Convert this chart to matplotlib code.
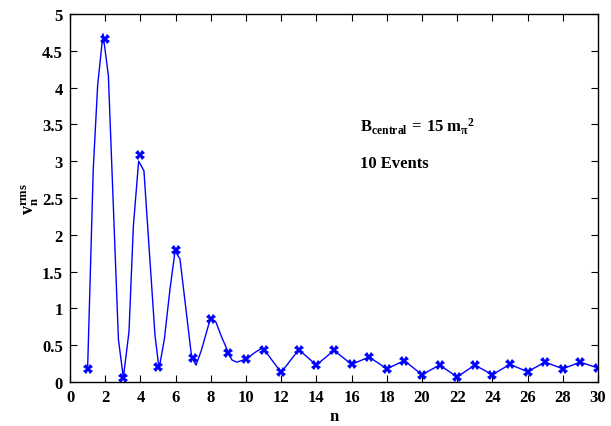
import matplotlib
matplotlib.use("Agg")
import matplotlib.pyplot as plt

# =========================
# Data
# =========================
n_points = list(range(1, 31))
v_points = [0.18, 4.66, 0.05, 3.09, 0.21, 1.79, 0.32, 0.85, 0.40, 0.31,
            0.44, 0.13, 0.44, 0.23, 0.43, 0.24, 0.34, 0.18, 0.29, 0.10,
            0.23, 0.07, 0.23, 0.10, 0.24, 0.14, 0.27, 0.18, 0.27, 0.19]

# the curve is its own finer series
n_curve = [1.0, 1.32, 1.57, 1.875, 2.18, 2.75, 3.03, 3.35, 3.6, 3.9, 4.2,
           4.83, 5.06, 5.36, 5.68, 5.97, 6.25, 6.91, 7.16, 7.45, 7.95, 8.05,
           8.3, 8.6, 9.0, 9.2, 9.47, 10.0, 10.5, 10.9, 11.0]
v_curve = [0.18, 2.89, 4.03, 4.73, 4.16, 0.58, 0.06, 0.68, 2.12, 3.0, 2.87,
           0.63, 0.18, 0.58, 1.26, 1.78, 1.67, 0.34, 0.23, 0.42, 0.84, 0.86,
           0.81, 0.62, 0.40, 0.30, 0.27, 0.31, 0.40, 0.46, 0.45]
n_curve += n_points[11:]
v_curve += v_points[11:]

# =========================
# Style
# =========================
plt.rcParams["font.family"] = ["Liberation Serif", "DejaVu Serif"]
plt.rcParams["font.weight"] = "bold"
plt.rcParams["mathtext.fontset"] = "custom"
plt.rcParams["mathtext.rm"] = "Liberation Serif:bold"
plt.rcParams["mathtext.it"] = "Liberation Serif:bold"
plt.rcParams["mathtext.bf"] = "Liberation Serif:bold"

fig = plt.figure(figsize=(6.11, 4.27), dpi=100)
ax = fig.add_axes([0.1146, 0.103, 0.864, 0.862])

ax.plot(n_curve, v_curve, color="blue", lw=1.0)
ax.plot(n_points, v_points, ls="none", marker="X", ms=6.5, color="blue",
        markeredgewidth=0)

ax.set_xlim(0, 30)
ax.set_ylim(0, 5)
ax.set_xticks(range(0, 31, 2))
ax.set_yticks([0, 0.5, 1, 1.5, 2, 2.5, 3, 3.5, 4, 4.5, 5])
ax.set_yticklabels(["0", "0.5", "1", "1.5", "2", "2.5", "3", "3.5", "4", "4.5", "5"])
ax.tick_params(direction="in", top=True, right=True, length=5, width=0.8,
               labelsize=12, pad=5)
for s in ax.spines.values():
    s.set_linewidth(1.0)

ax.set_xlabel("n", fontsize=12, fontweight="bold", labelpad=2)
ax.set_ylabel(r"$\mathrm{v}_\mathrm{n}^{\mathrm{rms}}$", fontsize=13, labelpad=1)

ax.text(16.5, 3.41, r"$\mathrm{B}_{\mathrm{central}}\,\mathrm{=\,15\;m}_{\pi}{}^{\mathrm{2}}$",
        fontsize=12)
ax.text(16.5, 2.92, "10 Events", fontsize=12, fontweight="bold")

fig.savefig("out.png", dpi=100)
